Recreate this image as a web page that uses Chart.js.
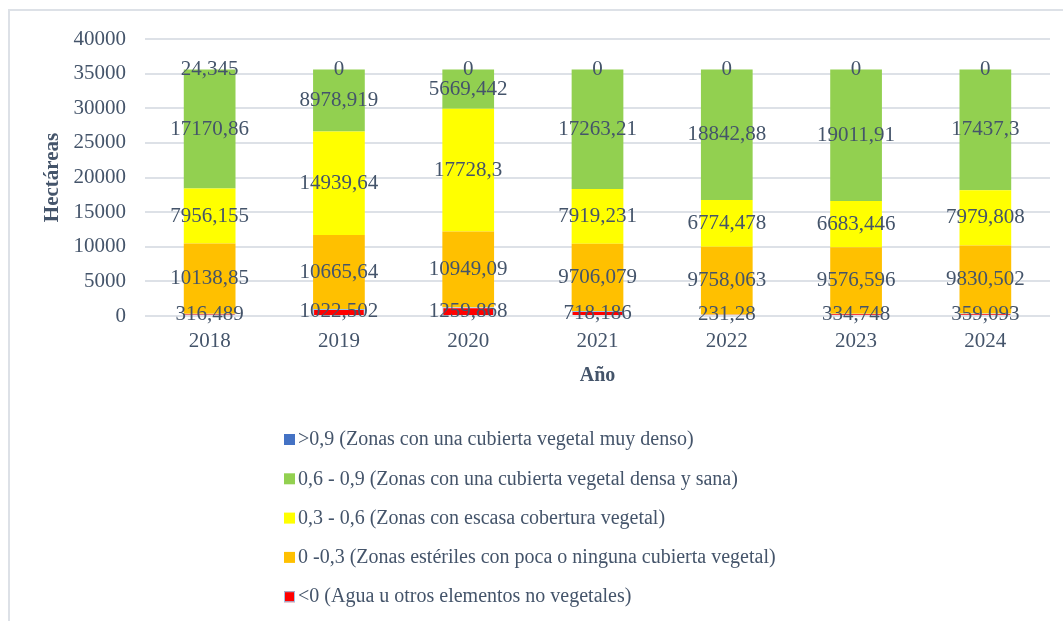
<!DOCTYPE html>
<html>
<head>
<meta charset="utf-8">
<script src="https://cdn.jsdelivr.net/npm/chart.js@4"></script>
<style>
  html, body { margin: 0; padding: 0; background: #fff; }
  #wrap { width: 1063px; height: 621px; position: relative; }
</style>
</head>
<body>
<div id="wrap"><canvas id="ndviChart" width="1063" height="621"></canvas></div>
<script>
var years = ['2018', '2019', '2020', '2021', '2022', '2023', '2024'];

// hectareas por clase de NDVI
var agua      = [316.489, 1022.502, 1259.868, 718.186, 231.28, 334.748, 359.093];
var esteriles = [10138.85, 10665.64, 10949.09, 9706.079, 9758.063, 9576.596, 9830.502];
var escasa    = [7956.155, 14939.64, 17728.3, 7919.231, 6774.478, 6683.446, 7979.808];
var densa     = [17170.86, 8978.919, 5669.442, 17263.21, 18842.88, 19011.91, 17437.3];
var muyDensa  = [24.345, 0, 0, 0, 0, 0, 0];

var yTicks = [0, 5000, 10000, 15000, 20000, 25000, 30000, 35000, 40000];

var textColor = '#44546a';
var serif = "'Liberation Serif', 'Times New Roman', serif";

Chart.defaults.font.family = serif;
Chart.defaults.color = textColor;

// numeros dentro de cada segmento, con coma decimal
var barLabels = {
  id: 'barLabels',
  afterDatasetsDraw(chart) {
    var ctx = chart.ctx;
    ctx.save();
    ctx.font = '21px ' + serif;
    ctx.fillStyle = textColor;
    ctx.textAlign = 'center';
    ctx.textBaseline = 'middle';
    chart.data.datasets.forEach((ds, i) => {
      var meta = chart.getDatasetMeta(i);
      meta.data.forEach((bar, j) => {
        var txt = String(ds.data[j]).replace('.', ',');
        ctx.fillText(txt, bar.x, (bar.y + bar.base) / 2);
      });
    });
    ctx.restore();
  }
};

// leyenda en columna debajo del grafico + marco
var listLegend = {
  id: 'listLegend',
  beforeDraw(chart) {
    var ctx = chart.ctx;
    ctx.save();
    ctx.strokeStyle = '#dde1e7';
    ctx.lineWidth = 2;
    ctx.strokeRect(9, 10, 1200, 800);
    ctx.restore();
  },
  afterDraw(chart) {
    var ctx = chart.ctx;
    var sets = chart.data.datasets.slice().reverse();
    ctx.save();
    ctx.font = '20px ' + serif;
    ctx.textBaseline = 'middle';
    sets.forEach((ds, k) => {
      var y = 439 + k * 39.3;
      ctx.fillStyle = ds.backgroundColor;
      ctx.fillRect(284, y - 5, 11, 11);
      if (ds.borderWidth) {
        ctx.strokeStyle = ds.borderColor;
        ctx.lineWidth = 1;
        ctx.strokeRect(284.5, y - 4.5, 10, 10);
      }
      ctx.fillStyle = textColor;
      ctx.fillText(ds.label, 298, y + 1);
    });
    ctx.restore();
  }
};

new Chart(document.getElementById('ndviChart'), {
  type: 'bar',
  data: {
    labels: years,
    datasets: [
      { label: '<0 (Agua u otros elementos no vegetales)', data: agua,
        backgroundColor: '#ff0000', borderColor: '#9dc3e6', borderWidth: 1 },
      { label: '0 -0,3 (Zonas estériles con poca o ninguna cubierta vegetal)', data: esteriles,
        backgroundColor: '#ffc000', borderWidth: 0 },
      { label: '0,3 - 0,6 (Zonas con escasa cobertura vegetal)', data: escasa,
        backgroundColor: '#ffff00', borderWidth: 0 },
      { label: '0,6 - 0,9 (Zonas con una cubierta vegetal densa y sana)', data: densa,
        backgroundColor: '#92d050', borderWidth: 0 },
      { label: '>0,9 (Zonas con una cubierta vegetal muy denso)', data: muyDensa,
        backgroundColor: '#4472c4', borderWidth: 0 }
    ]
  },
  options: {
    responsive: false,
    animation: false,
    layout: { padding: { left: 0, right: 13, top: 39, bottom: 225 } },
    datasets: { bar: { barPercentage: 0.4, categoryPercentage: 1 } },
    plugins: {
      legend: { display: false },
      tooltip: { enabled: false }
    },
    scales: {
      x: {
        stacked: true,
        grid: { display: false },
        border: { display: false },
        ticks: { font: { size: 21 }, padding: 5, color: textColor },
        title: { display: true, text: 'Año', font: { size: 20, weight: 'bold' }, padding: { top: 0, bottom: 8 } },
        afterFit: s => { s.height = 80; }
      },
      y: {
        stacked: true,
        min: 0,
        max: 40000,
        afterBuildTicks: s => { s.ticks = yTicks.map(v => ({ value: v })); },
        grid: { color: '#dde1e7', lineWidth: 2, drawTicks: false },
        border: { display: false },
        ticks: { font: { size: 21 }, padding: 19, color: textColor, callback: v => String(v) },
        title: { display: true, text: 'Hectáreas', font: { size: 21, weight: 'bold' }, padding: { top: 40, bottom: 0 } },
        afterFit: s => { s.width = 145; }
      }
    }
  },
  plugins: [barLabels, listLegend]
});
</script>
</body>
</html>
